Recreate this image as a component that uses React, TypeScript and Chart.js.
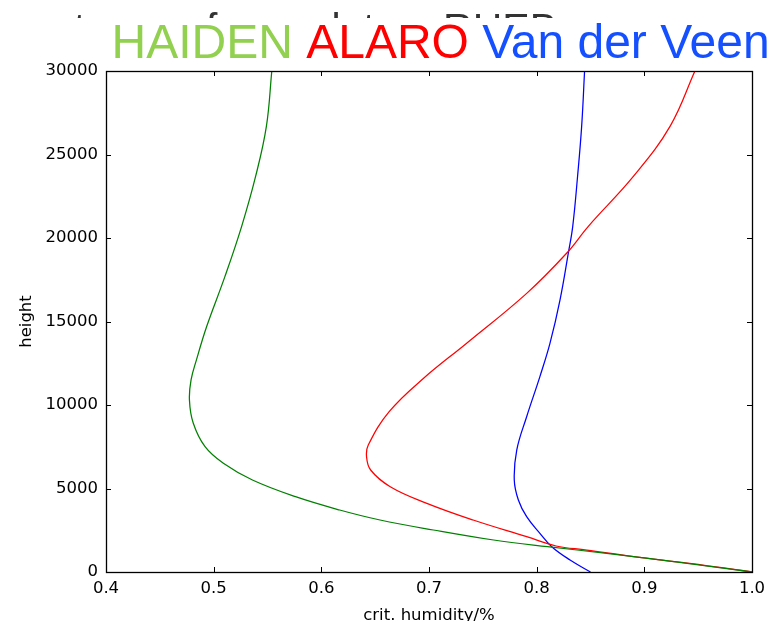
import React, { useEffect, useRef } from 'react';
import { Chart, registerables } from 'chart.js';

Chart.register(...registerables);

// ---- data (height in m, critical humidity as fraction) ----
const haidenHeights = [0, 719, 1120, 1515, 1916, 2515, 3114, 3713, 4509, 5509, 6509, 7503, 8922, 10300, 11500, 12700, 14700, 17700, 20700, 23700, 26700, 30000];
const haidenValues = [1.0, 0.915, 0.865, 0.81, 0.76, 0.704, 0.6545, 0.617, 0.576, 0.536, 0.509, 0.492, 0.481, 0.4775, 0.479, 0.484, 0.4935, 0.5105, 0.526, 0.539, 0.549, 0.554];

const alaroHeights = [0, 521, 916, 1317, 1557, 2114, 3114, 4113, 5109, 6108, 6904, 7600, 9600, 11600, 13700, 16700, 19100, 20700, 23700, 26700, 30000];
const alaroValues = [1.0, 0.942, 0.89, 0.8465, 0.818, 0.7907, 0.741, 0.698, 0.664, 0.6458, 0.642, 0.6436, 0.663, 0.695, 0.735, 0.791, 0.828, 0.848, 0.89, 0.924, 0.947];

const veenHeights = [0, 719, 1515, 2317, 3311, 4311, 5509, 7305, 9300, 11700, 13700, 16300, 19100, 20700, 23700, 26700, 30000];
const veenValues = [0.85, 0.831, 0.814, 0.803, 0.7907, 0.783, 0.7792, 0.7815, 0.7907, 0.803, 0.8124, 0.8217, 0.8294, 0.8335, 0.838, 0.8418, 0.8445];

const xTickMin = 0.4;
const xTickMax = 1.0;
const xTickStep = 0.1;
const yTickMin = 0;
const yTickMax = 30000;
const yTickStep = 5000;

const titleParts = [
  { text: 'HAIDEN', color: '#92d050' },
  { text: 'ALARO', color: '#ff0000' },
  { text: 'Van der Veen', color: '#1450ff' },
];
const backTitle = 'types of rcm plot on RHEB';

const AXIS_FONT = 'DejaVu Sans';

export default function App() {
  const ref = useRef<HTMLCanvasElement>(null);

  useEffect(() => {
    const toPts = (h: number[], v: number[]) => h.map((y, i) => ({ x: v[i], y }));

    const header = {
      id: 'header',
      afterDraw(chart: any) {
        const ctx = chart.ctx as CanvasRenderingContext2D;
        ctx.save();
        // partially hidden back title (only its upper part shows)
        ctx.beginPath();
        ctx.rect(0, 0, chart.width, 18);
        ctx.clip();
        ctx.font = '41px "Liberation Sans", Arial, sans-serif';
        ctx.fillStyle = '#333333';
        ctx.textBaseline = 'alphabetic';
        ctx.textAlign = 'right';
        ctx.fillText(backTitle, 557, 41.5);
        ctx.restore();

        ctx.save();
        ctx.font = '48px "Liberation Sans", Arial, sans-serif';
        ctx.textBaseline = 'alphabetic';
        ctx.textAlign = 'left';
        let x = 111.5;
        const space = ctx.measureText(' ').width;
        titleParts.forEach((p) => {
          ctx.fillStyle = p.color;
          ctx.fillText(p.text, x, 57.5);
          x += ctx.measureText(p.text).width + space;
        });
        ctx.restore();
      },
    };

    const frame = {
      id: 'frame',
      afterDraw(chart: any) {
        const ctx = chart.ctx as CanvasRenderingContext2D;
        const { left, right, top, bottom } = chart.chartArea;
        const xs = chart.scales.x;
        const ys = chart.scales.y;
        ctx.save();
        ctx.strokeStyle = '#000';
        ctx.lineWidth = 1;
        const tl = 5;
        ctx.beginPath();
        xs.ticks.forEach((t: any) => {
          const px = Math.round(xs.getPixelForValue(t.value)) + 0.5;
          ctx.moveTo(px, bottom);
          ctx.lineTo(px, bottom - tl);
          ctx.moveTo(px, top);
          ctx.lineTo(px, top + tl);
        });
        ys.ticks.forEach((t: any) => {
          const py = Math.round(ys.getPixelForValue(t.value)) + 0.5;
          ctx.moveTo(left, py);
          ctx.lineTo(left + tl, py);
          ctx.moveTo(right, py);
          ctx.lineTo(right - tl, py);
        });
        ctx.stroke();
        ctx.lineWidth = 1.3;
        ctx.strokeRect(left + 0.5, top + 0.5, right - left, bottom - top);
        ctx.restore();
      },
    };

    const tickFont = { family: AXIS_FONT, size: 16.5 };
    const titleFont = { family: AXIS_FONT, size: 16.5 };

    const mkSet = (label: string, h: number[], v: number[], color: string) => ({
      label,
      data: toPts(h, v),
      borderColor: color,
      borderWidth: 1.25,
      pointRadius: 0,
      tension: 0.4,
    });

    const chart = new Chart(ref.current as HTMLCanvasElement, {
      type: 'line',
      data: {
        datasets: [
          mkSet('HAIDEN', haidenHeights, haidenValues, '#008000'),
          mkSet('ALARO', alaroHeights, alaroValues, '#ff0000'),
          mkSet('Van der Veen', veenHeights, veenValues, '#0000ff'),
        ] as any,
      },
      options: {
        indexAxis: 'y',
        responsive: false,
        animation: false,
        devicePixelRatio: 1,
        layout: { padding: { top: 71, right: 27, bottom: 0, left: 0 } },
        plugins: { legend: { display: false }, tooltip: { enabled: false } },
        elements: { line: { fill: false, capBezierPoints: true } },
        scales: {
          x: {
            type: 'linear',
            position: 'bottom',
            min: xTickMin,
            max: xTickMax,
            grid: { display: false, drawTicks: false },
            border: { display: false },
            ticks: {
              stepSize: xTickStep,
              callback: (v: any) => Number(v).toFixed(1),
              font: tickFont,
              color: '#000',
              padding: 7,
              maxRotation: 0,
            },
            title: {
              display: true,
              text: 'crit. humidity/%',
              font: titleFont,
              color: '#000',
              padding: { top: 0, bottom: -5 },
            },
            afterFit: (s: any) => {
              s.height = 49;
            },
          },
          y: {
            type: 'linear',
            position: 'left',
            min: yTickMin,
            max: yTickMax,
            grid: { display: false, drawTicks: false },
            border: { display: false },
            ticks: {
              stepSize: yTickStep,
              callback: (v: any) => String(v),
              font: tickFont,
              color: '#000',
              padding: 8,
            },
            title: {
              display: true,
              text: 'height',
              font: titleFont,
              color: '#000',
              padding: { top: 17, bottom: 0 },
            },
            afterFit: (s: any) => {
              s.width = 106;
            },
          },
        },
      } as any,
      plugins: [frame, header],
    });
    return () => chart.destroy();
  }, []);

  return (
    <div style={{ position: 'absolute', left: 0, top: 0, width: 779, height: 621, background: '#fff' }}>
      <canvas ref={ref} width={779} height={621} style={{ display: 'block' }} />
    </div>
  );
}
